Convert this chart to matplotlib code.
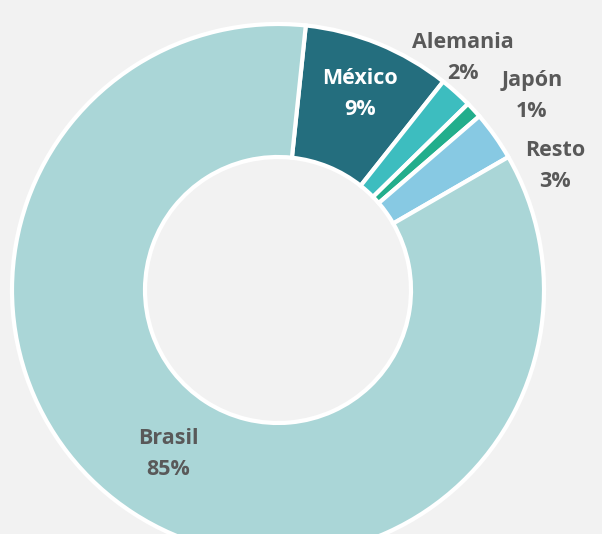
import matplotlib.pyplot as plt

# datos
paises = ['México', 'Alemania', 'Japón', 'Resto', 'Brasil']
valores = [9, 2, 1, 3, 85]
colores = ['#246e7e', '#3dbdbf', '#22ae8c', '#87c9e3', '#aad6d7']

# posiciones de etiquetas (px, origen abajo a la izquierda)
pos_etiquetas = [(360, 440), (463, 476), (532, 438), (555, 368), (168, 80)]
color_etiquetas = ['white', '#595959', '#595959', '#595959', '#595959']

fig = plt.figure(figsize=(6.02, 5.34), dpi=100, facecolor='#f2f2f2')
ax = fig.add_axes([0, 0, 1, 1])
ax.set_facecolor('#f2f2f2')

ax.pie(valores, colors=colores, startangle=84, counterclock=False,
       center=(278, 244), radius=266,
       wedgeprops=dict(width=133, edgecolor='white', linewidth=3))

for p, v, (x, y), c in zip(paises, valores, pos_etiquetas, color_etiquetas):
    ax.text(x, y, f'{p}\n{v}%', ha='center', va='center', color=c,
            fontsize=15.5, fontweight='bold', family='Open Sans', linespacing=1.6)

ax.set_xlim(0, 602)
ax.set_ylim(0, 534)
ax.set_aspect('equal')
ax.axis('off')

plt.savefig('out.png', dpi=100, facecolor='#f2f2f2')
